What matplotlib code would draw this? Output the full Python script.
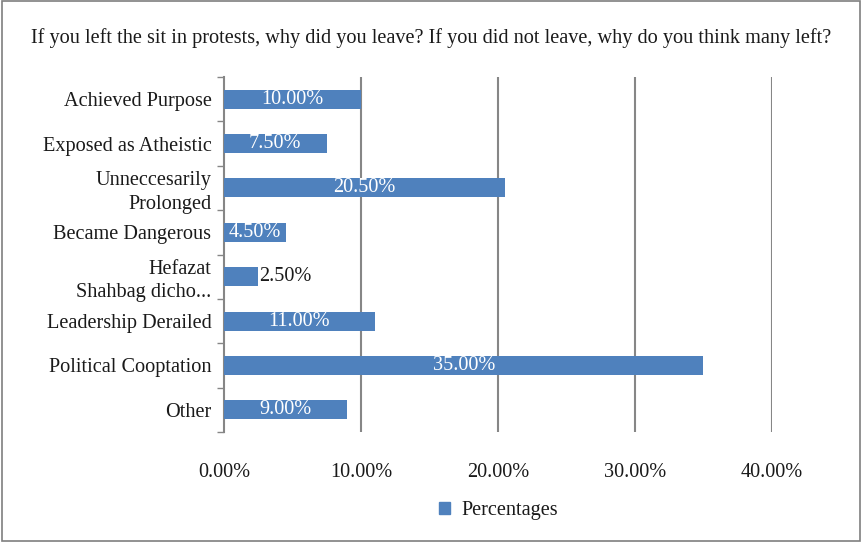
import matplotlib
matplotlib.use("Agg")
import matplotlib.pyplot as plt
from matplotlib.patches import Rectangle

categories = ["Achieved Purpose", "Exposed as Atheistic", "Unneccesarily\nProlonged",
              "Became Dangerous", "Hefazat\nShahbag dicho...", "Leadership Derailed",
              "Political Cooptation", "Other"]
values = [10.0, 7.5, 20.5, 4.5, 2.5, 11.0, 35.0, 9.0]
xticks = [0, 10, 20, 30, 40]
xtick_labels = ["0.00%", "10.00%", "20.00%", "30.00%", "40.00%"]
title = "If you left the sit in protests, why did you leave? If you did not leave, why do you think many left?"
series_name = "Percentages"

bar_color = "#4F81BD"
text_color = "#1a1a1a"
grid_color = "#868686"
FS = 14.6

plt.rcParams['font.family'] = ['Liberation Serif', 'DejaVu Serif']

fig = plt.figure(figsize=(8.62, 5.42), dpi=100)
ax = fig.add_axes([224/862, 1 - 432/542, (772-224)/862, (432-77)/542])

n = len(categories)
ypos = list(range(n))
ax.barh(ypos, values, height=0.43, color=bar_color, zorder=3)
ax.set_ylim(n - 0.5, -0.5)
ax.set_xlim(0, 40)

for y, v in zip(ypos, values):
    if v >= 4:
        ax.text(v / 2, y, f"{v:.2f}%", ha="center", va="center", color="white",
                fontsize=FS, zorder=4)
    else:
        ax.text(v + 0.05, y, f"{v:.2f}%", ha="left", va="center", color=text_color,
                fontsize=FS, zorder=4)

ax.set_xticks(xticks)
ax.set_xticklabels(xtick_labels, fontsize=FS, color=text_color)
ax.tick_params(axis='x', length=0, pad=22)
ax.set_yticks(ypos)
ax.set_yticklabels(categories, fontsize=FS, color=text_color, linespacing=1.3)
ax.tick_params(axis='y', which='major', length=0, pad=9)
ax.set_yticks([i - 0.5 for i in range(n + 1)], minor=True)
ax.tick_params(axis='y', which='minor', length=5, color=grid_color, width=1)

for x in xticks[1:]:
    ax.axvline(x, color=grid_color, lw=1.5, zorder=1)

for s in ['top', 'right', 'bottom']:
    ax.spines[s].set_visible(False)
ax.spines['left'].set_color(grid_color)
ax.spines['left'].set_linewidth(1.5)

fig.text(0.5, 1 - 38/542, title, ha="center", va="center", fontsize=FS, color=text_color)

# legend
leg = fig.legend([Rectangle((0, 0), 1, 1, color=bar_color)], [series_name],
                 loc="center", bbox_to_anchor=(0.578, 1 - 511/542), frameon=False,
                 fontsize=FS, handlelength=0.55, handleheight=0.55, handletextpad=0.55)
for t in leg.get_texts():
    t.set_color(text_color)

# outer frame
fig.patches.append(Rectangle((0.002, 0.002), 0.996, 0.996, transform=fig.transFigure,
                             fill=False, edgecolor="#7f7f7f", lw=1.2))

fig.savefig("out.png", dpi=100)
